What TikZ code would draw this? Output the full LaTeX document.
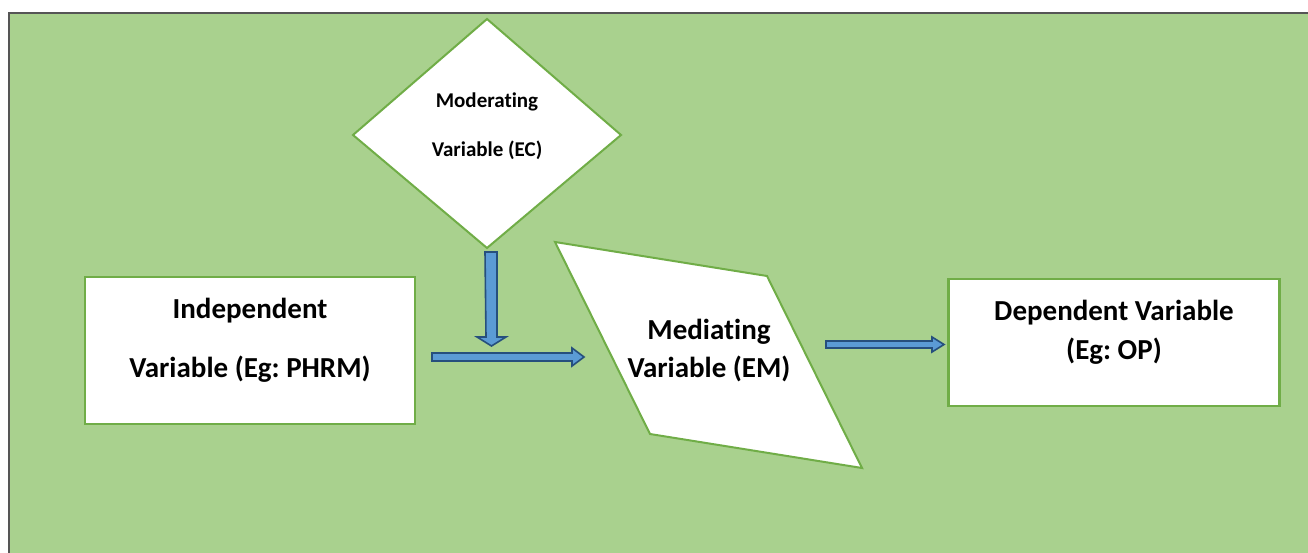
\documentclass[tikz,border=0pt]{standalone}
\usepackage{fontspec}
\setmainfont{Carlito}[Ligatures=NoCommon]
\frenchspacing
\definecolor{bggreen}{HTML}{A9D18E}
\definecolor{lgreen}{HTML}{70AD47}
\definecolor{ablue}{HTML}{5B9BD5}
\definecolor{adark}{HTML}{264F7D}
\definecolor{framegray}{HTML}{555555}
\begin{document}
\begin{tikzpicture}[x=1pt,y=-1pt,
  shapebox/.style={draw=lgreen, fill=white, line width=2pt, line join=miter},
  rectbox/.style={shapebox, line width=2.5pt, inner sep=0pt},
  bigtext/.style={font=\bfseries\fontsize{29}{38}\selectfont, align=center, anchor=base, inner sep=0pt},
  smalltext/.style={font=\bfseries\fontsize{21}{49}\selectfont, align=center, anchor=base, inner sep=0pt},
  blockarrow/.style={draw=adark, fill=ablue, line width=1.6pt, line join=miter}]
\useasboundingbox (0,0) rectangle (1308,553);
% background
\fill[bggreen] (9,13) rectangle (1308,553);
\draw[framegray, line width=1.5pt] (9,553) -- (9,13) -- (1308,13);

% moderating diamond
\coordinate (modT) at (487,19);
\coordinate (modR) at (621,135);
\coordinate (modB) at (487,248);
\coordinate (modL) at (353,135);
\draw[shapebox] (modT) -- (modR) -- (modB) -- (modL) -- cycle;
\node[smalltext] (modtxt) at (487,157) {Moderating\\Variable (EC)};

% independent
\node[rectbox, minimum width=330, minimum height=147] (ind) at (250,350.5) {};
\node[bigtext, font=\bfseries\fontsize{29}{59}\selectfont] (indtxt) at (250,377) {Independent\\Variable (Eg: PHRM)};

% mediating quadrilateral
\coordinate (medA) at (555,242);
\coordinate (medB) at (767,276);
\coordinate (medC) at (862,468);
\coordinate (medD) at (650,434);
\draw[shapebox] (medA) -- (medB) -- (medC) -- (medD) -- cycle;
\node[bigtext] (medtxt) at (709,377) {Mediating\\Variable (EM)};

% dependent
\node[rectbox, minimum width=331, minimum height=127] (dep) at (1114,342.5) {};
\node[bigtext, font=\bfseries\fontsize{29}{39}\selectfont] (deptxt) at (1114,359) {Dependent Variable\\(Eg: OP)};

% block arrows
\coordinate (a1) at (491,252);
\draw[blockarrow] (a1) ++(-6,0) -- ++(12,0) -- ++(0,85) -- ++(9,0) -- ++(-14.5,9) -- ++(-14.5,-9) -- ++(9,0) -- cycle;
\coordinate (a2) at (432,357);
\draw[blockarrow] (a2) ++(0,-4) -- ++(140,0) -- ++(0,-5) -- ++(12,9) -- ++(-12,9) -- ++(0,-5) -- ++(-140,0) -- cycle;
\coordinate (a3) at (826,344.5);
\draw[blockarrow] (a3) ++(0,-3.5) -- ++(106,0) -- ++(0,-4) -- ++(12,7.5) -- ++(-12,7.5) -- ++(0,-4) -- ++(-106,0) -- cycle;
\end{tikzpicture}
\end{document}
